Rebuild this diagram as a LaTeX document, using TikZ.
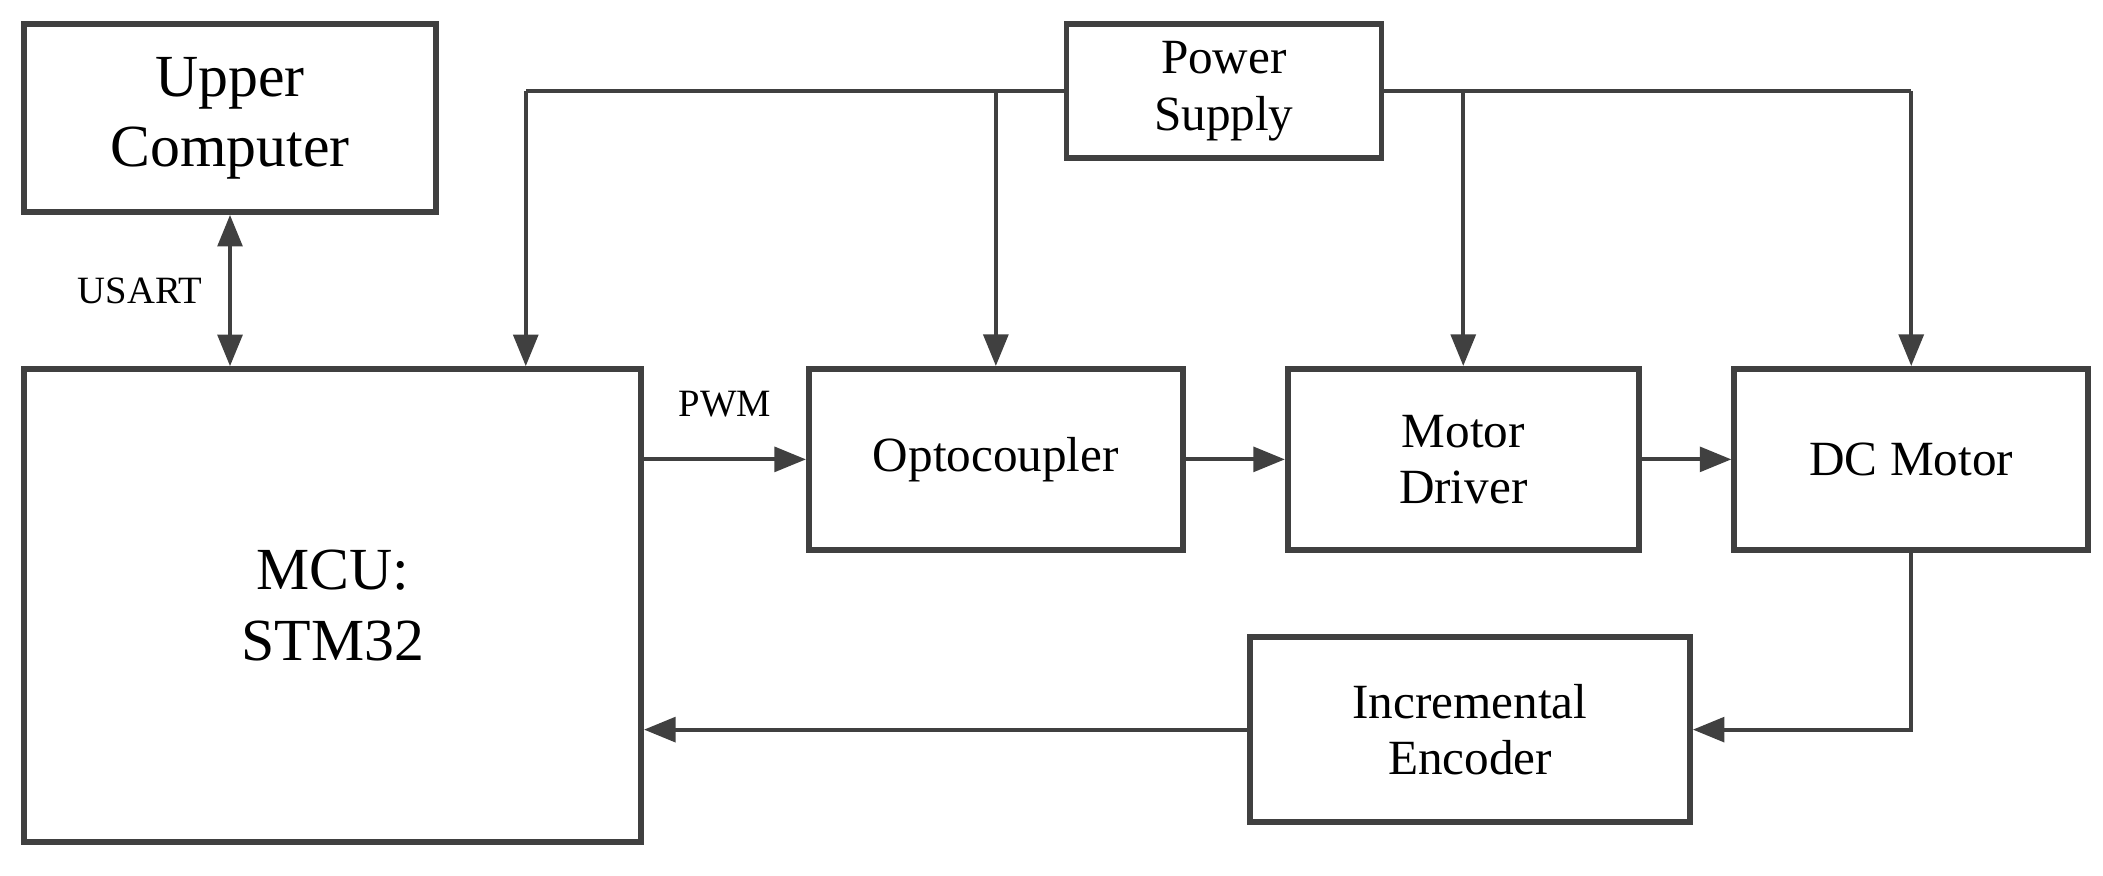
\documentclass[tikz,border=0pt]{standalone}
\usepackage{fontspec}
\setmainfont{Liberation Serif}
\usetikzlibrary{arrows.meta}
\definecolor{linegray}{RGB}{64,64,64}
\tikzstyle{block}=[draw=linegray,line width=1.6pt,inner sep=2pt,
                  align=center,font=\fontsize{14}{16}\selectfont]
\tikzstyle{bigblock}=[block,font=\fontsize{17}{20}\selectfont]
\tikzstyle{wire}=[draw=linegray,line width=1.2pt,-{Triangle[length=9pt,width=7pt]}]
\tikzstyle{plain}=[draw=linegray,line width=1.2pt]

\begin{document}
\begin{tikzpicture}[x=0.01341cm,y=-0.01341cm]
      \useasboundingbox (0,0) rectangle (1568,653);
      % Blocks
      \node[bigblock,minimum width=4.12cm,minimum height=1.88cm] (upper) at (171.5,88) {Upper\\Computer};
      \node[block,minimum width=3.15cm,minimum height=1.34cm] (power) at (912.5,68) {Power\\Supply};
      \node[bigblock,minimum width=6.17cm,minimum height=4.73cm] (mcu) at (248,451.5) {MCU:\\STM32};
      \node[block,minimum width=3.74cm,minimum height=1.81cm] (opto) at (742.5,342.5) {Optocoupler};
      \node[block,minimum width=3.51cm,minimum height=1.81cm] (driver) at (1091,342.5) {Motor\\Driver};
      \node[block,minimum width=3.54cm,minimum height=1.81cm] (motor) at (1425,342.5) {DC Motor};
      \node[block,minimum width=4.40cm,minimum height=1.85cm] (encoder) at (1096,544) {Incremental\\Encoder};
      % Power lines
      \coordinate (pl) at (392,68);
      \coordinate (pr) at (1425,68);
      \path[plain] (power.west) -- (pl);
      \path[plain] (power.east) -- (pr);
      \path[wire] (pl) -- (pl |- mcu.north);
      \path[wire] (power.west -| opto) -- (opto.north);
      \path[wire] (power.east -| driver) -- (driver.north);
      \path[wire] (pr) -- (motor.north);
      % Signal chain
      \path[wire,{Triangle[length=9pt,width=7pt]}-{Triangle[length=9pt,width=7pt]}] (upper.south) -- (upper.south |- mcu.north)
        node[midway,left=4pt,font=\fontsize{11}{13}\selectfont] {USART};
      \path[wire] (mcu.east |- opto) -- (opto.west)
        node[pos=0.5,above=8pt,font=\fontsize{11}{13}\selectfont] {PWM};
      \path[wire] (opto) -- (driver);
      \path[wire] (driver) -- (motor);
      \path[wire] (motor.south) |- (encoder.east);
      \path[wire] (encoder.west) -- (encoder.west -| mcu.east);
    \end{tikzpicture}
\end{document}
